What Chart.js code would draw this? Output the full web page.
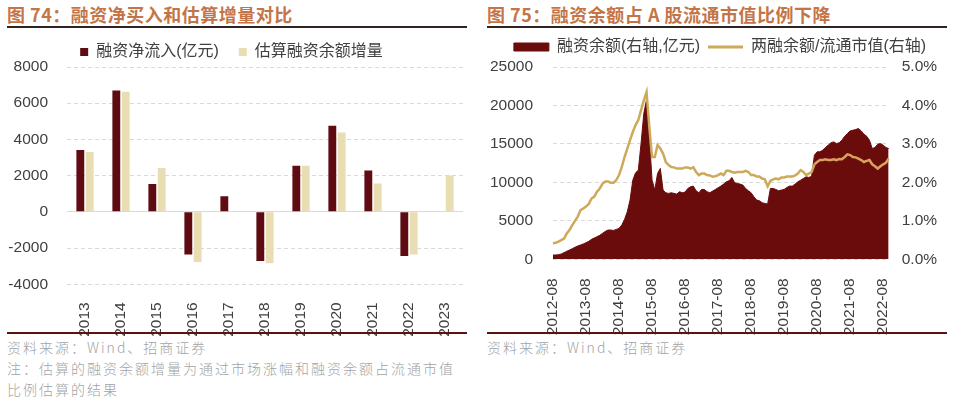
<!DOCTYPE html>
<html><head><meta charset="utf-8">
<script src="https://cdn.jsdelivr.net/npm/chart.js@4/dist/chart.umd.min.js"></script>
<style>
body{margin:0;width:956px;height:398px;background:#fff;position:relative;overflow:hidden;font-family:"Liberation Sans","Noto Sans CJK SC",sans-serif;}
.title{position:absolute;top:3px;height:22px;line-height:22px;font-family:"Noto Sans CJK SC",sans-serif;font-weight:bold;font-size:18px;letter-spacing:0.5px;color:#C47547;white-space:nowrap;}
.rule{position:absolute;top:26px;height:1.5px;background:#2e2222;}
.brule{position:absolute;top:332px;height:2px;background:#5c1212;}
.src{position:absolute;font-family:"Noto Sans CJK SC",sans-serif;font-weight:300;font-size:14px;line-height:21px;color:#a3a3a3;letter-spacing:2px;white-space:nowrap;}
canvas{position:absolute;}
</style>
</head><body>
<div class="title" style="left:7px;">图 74：融资净买入和估算增量对比</div>
<div class="rule" style="left:7px;width:460px;"></div>
<div class="title" style="left:487px;">图 75：融资余额占 A 股流通市值比例下降</div>
<div class="rule" style="left:487px;width:460px;"></div>

<canvas id="c1" width="478" height="313" style="left:0;top:24px;"></canvas>
<canvas id="c2" width="472" height="306" style="left:484px;top:31px;"></canvas>

<div class="brule" style="left:7px;width:460px;"></div>
<div class="brule" style="left:487px;width:460px;"></div>
<div class="src" style="left:7px;top:337px;">资料来源：Wind、招商证券<br>注：估算的融资余额增量为通过市场涨幅和融资余额占流通市值<br>比例估算的结果</div>
<div class="src" style="left:487px;top:337px;">资料来源：Wind、招商证券</div>

<script>
// ---------- Figure 74 data ----------
const years = ['2013','2014','2015','2016','2017','2018','2019','2020','2021','2022','2023'];
const netInflow = [3420, 6700, 1540, -2350, 860, -2710, 2550, 4750, 2290, -2440, null];
const estimatedIncrease = [3300, 6630, 2420, -2770, 40, -2840, 2550, 4380, 1560, -2350, 2010];

// ---------- Figure 75 data (monthly, 2012-08 .. 2022-10) ----------
const startYear = 2012, startMonth = 8, monthCount = 123;
const months = [];
for (let i = 0; i < monthCount; i++) {
  const m = startMonth - 1 + i;
  const y = startYear + Math.floor(m / 12);
  months.push(y + '-' + String(m % 12 + 1).padStart(2, '0'));
}
const tickLabels = ['2012-08','2013-08','2014-08','2015-08','2016-08','2017-08','2018-08','2019-08','2020-08','2021-08','2022-08'];
const marginBalance = [
  560,560,605,690,865,1040,1210,1385,1560,1730,1860,1990,
  2160,2335,2595,2770,2940,3115,3375,3630,3805,3805,3760,3890,
  4020,4455,5190,6185,7700,10290,11245,11590,15050,18945,20760,15915,
  10290,9000,11160,11810,9000,8650,8565,8650,8565,8475,8780,8650,
  8735,9210,9430,9515,8910,8650,9080,9080,8780,8650,8865,9080,
  9300,9515,9775,10080,10205,10640,9950,9860,9775,9645,9210,8910,
  8650,8130,7700,7610,7350,7265,7180,9210,9210,9080,8910,9000,
  9080,9340,9515,9515,9775,10080,10290,10510,10725,10640,10810,13540,
  13970,13970,14185,14530,14835,15140,15265,15050,15140,15485,16000,16350,
  16695,16780,16870,17000,16695,16260,16000,15485,14400,14530,14965,15050,
  14835,14530,14400
];
const marginRatio = [
  0.42,0.43,0.46,0.50,0.54,0.67,0.76,0.89,1.00,1.11,1.28,1.32,
  1.37,1.44,1.58,1.63,1.76,1.84,1.97,2.02,2.02,1.99,1.99,2.06,
  2.19,2.40,2.66,2.88,3.10,3.31,3.49,3.62,3.88,4.13,4.35,3.44,
  2.66,2.66,2.97,2.88,2.75,2.53,2.45,2.40,2.39,2.36,2.36,2.36,
  2.39,2.39,2.36,2.39,2.27,2.19,2.23,2.23,2.19,2.18,2.15,2.16,
  2.19,2.23,2.19,2.30,2.30,2.27,2.25,2.27,2.27,2.27,2.30,2.27,
  2.19,2.19,2.15,2.15,2.10,2.08,1.90,2.04,2.08,2.10,2.08,2.13,
  2.13,2.15,2.15,2.15,2.18,2.23,2.32,2.27,2.19,2.23,2.27,2.47,
  2.53,2.58,2.58,2.60,2.58,2.58,2.60,2.58,2.61,2.60,2.66,2.73,
  2.71,2.66,2.65,2.62,2.58,2.53,2.56,2.58,2.47,2.42,2.36,2.42,
  2.47,2.51,2.62
];

// ---------- shared ----------
Chart.defaults.font.family = '"Liberation Sans","Noto Sans CJK SC",sans-serif';
Chart.defaults.color = '#404040';
const GRID = '#D9D9D9';
const AREA = '#6B0C0C';
const GOLD = '#CDA95A';
const GOLD_ON_DARK = '#D9A160';

const legendPad = {
  id: 'legendPad',
  beforeLayout(chart, args, opts) {
    const lg = chart.legend;
    if (lg && !lg._padPatched) {
      const orig = lg.fit;
      lg.fit = function () { orig.call(this); this.height += (opts.extra || 0); };
      lg._padPatched = true;
    }
  }
};

// ---------- Figure 74 ----------
new Chart(document.getElementById('c1'), {
  type: 'bar',
  data: {
    labels: years,
    datasets: [
      { label: '融资净流入(亿元)', data: netInflow, backgroundColor: '#5E0B12', categoryPercentage: 0.52, barPercentage: 0.84 },
      { label: '估算融资余额增量', data: estimatedIncrease, backgroundColor: '#E9DDB4', categoryPercentage: 0.52, barPercentage: 0.84 }
    ]
  },
  options: {
    responsive: false, animation: false,
    layout: { padding: { left: 0, right: 15, top: 0, bottom: 0 } },
    plugins: {
      legend: { labels: { boxWidth: 8, boxHeight: 8, padding: 20, font: { size: 16 }, color: '#404040' } },
      tooltip: { enabled: false },
      legendPad: { extra: -3 }
    },
    scales: {
      x: {
        grid: { display: false }, border: { display: false },
        ticks: { autoSkip: false, minRotation: 90, maxRotation: 90, padding: 10, font: { size: 15.5 } },
        afterFit(s) { s.height = 52.7; }
      },
      y: {
        min: -4000, max: 8000,
        ticks: { stepSize: 2000, padding: 19, font: { size: 15.5 }, callback: (v) => String(v) },
        grid: { color: GRID, drawTicks: false },
        border: { display: false, dash: (ctx) => (ctx && ctx.tick && ctx.tick.value === 0) ? [] : [4, 3] },
        afterFit(s) { s.width = 67; }
      }
    }
  },
  plugins: [legendPad]
});

// ---------- Figure 75 ----------
new Chart(document.getElementById('c2'), {
  type: 'line',
  data: {
    labels: months,
    datasets: [
      { label: '融资余额(右轴,亿元)', data: marginBalance, yAxisID: 'y', fill: 'origin',
        backgroundColor: AREA, borderColor: AREA, borderWidth: 1, pointRadius: 0, tension: 0, order: 2 },
      { label: '两融余额/流通市值(右轴)', data: marginRatio, yAxisID: 'y1', fill: false,
        borderColor: GOLD, borderWidth: 2.5, pointRadius: 0, tension: 0, order: 1,
        segment: { borderColor: (ctx) => ctx.p0DataIndex >= 95 ? GOLD_ON_DARK : GOLD } }
    ]
  },
  options: {
    responsive: false, animation: false,
    layout: { padding: { left: 0, right: 0, top: 0, bottom: 0 } },
    plugins: {
      legend: {
        labels: {
          usePointStyle: true, pointStyleWidth: 35, boxHeight: 8, padding: 8, font: { size: 16 }, color: '#404040',
          generateLabels(chart) {
            const items = Chart.defaults.plugins.legend.labels.generateLabels(chart)
              .sort((a, b) => a.datasetIndex - b.datasetIndex);
            items[0].pointStyle = 'rect'; items[0].fillStyle = AREA; items[0].strokeStyle = AREA; items[0].lineWidth = 1;
            items[1].pointStyle = 'line'; items[1].strokeStyle = GOLD; items[1].lineWidth = 3;
            return items;
          }
        }
      },
      tooltip: { enabled: false },
      legendPad: { extra: 2 }
    },
    scales: {
      x: {
        grid: { display: false }, border: { display: false },
        ticks: {
          autoSkip: false, minRotation: 90, maxRotation: 90, padding: 11, font: { size: 15.5 },
          callback: (v, i) => tickLabels.includes(months[i]) ? months[i] : ''
        },
        afterFit(s) { s.height = 77.7; }
      },
      y: {
        position: 'left', min: 0, max: 25000,
        ticks: { stepSize: 5000, padding: 20, font: { size: 15.5 }, callback: (v) => String(v) },
        grid: { color: GRID, drawTicks: false },
        border: { display: false, dash: [4, 3] },
        afterFit(s) { s.width = 69; }
      },
      y1: {
        position: 'right', min: 0, max: 5,
        ticks: { stepSize: 1, padding: 13, font: { size: 15.5 }, callback: (v) => v.toFixed(1) + '%' },
        grid: { drawOnChartArea: false, drawTicks: false },
        border: { display: false },
        afterFit(s) { s.width = 67.3; }
      }
    }
  },
  plugins: [legendPad]
});
</script>
</body></html>
